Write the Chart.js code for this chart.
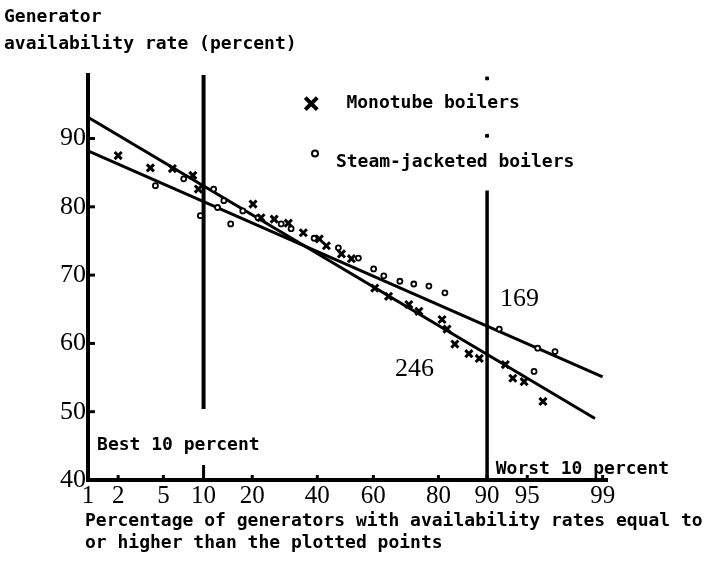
<!DOCTYPE html>
<html>
<head>
<meta charset="utf-8">
<script src="https://cdn.jsdelivr.net/npm/chart.js@4.4.1/dist/chart.umd.min.js"></script>
<style>
  body { margin: 0; background: #fff; }
  #wrap { width: 722px; height: 579px; }
</style>
</head>
<body>
<div id="wrap"><canvas id="availChart" width="722" height="579"></canvas></div>
<script>
// x values are "percentage of generators" (probability scale), y values are availability (%)
const xTicks = [1, 2, 5, 10, 20, 40, 60, 80, 90, 95, 99];
const yTicks = [40, 50, 60, 70, 80, 90];
const xRange = [1, 99.1];
const yRange = [40, 99.3];

const monoPct  = [2.0, 3.9, 5.9, 8.4, 9.2, 20.2, 22.3, 26.0, 30.3, 35.2, 40.7, 43.2, 48.6, 52.2,
                  60.5, 65.2, 71.7, 74.7, 80.9, 82.1, 83.9, 86.8, 88.7, 92.6, 93.5, 94.7, 96.3];
const monoRate = [87.5, 85.7, 85.6, 84.6, 82.6, 80.4, 78.4, 78.2, 77.6, 76.2, 75.3, 74.3, 73.1, 72.4,
                  68.1, 66.9, 65.7, 64.7, 63.5, 62.1, 59.9, 58.5, 57.8, 56.9, 54.9, 54.4, 51.5];

const steamPct  = [4.3, 7.2, 9.5, 11.7, 12.4, 13.6, 15.0, 17.7, 21.5, 28.1, 31.2, 38.9, 47.5, 54.7,
                   60.1, 63.6, 68.9, 73.2, 77.5, 81.6, 91.8, 95.6, 95.9, 97.1];
const steamRate = [83.1, 84.1, 78.7, 82.6, 79.9, 80.9, 77.5, 79.4, 78.4, 77.5, 76.8, 75.4, 74.0, 72.5,
                   70.9, 69.9, 69.1, 68.7, 68.4, 67.4, 62.1, 55.9, 59.3, 58.8];

// fitted lines (end points)
const monoFitPct   = [1, 98.8];
const monoFitRate  = [93.1, 49.0];
const steamFitPct  = [1, 99.0];
const steamFitRate = [88.2, 55.1];

// "best 10 percent" / "worst 10 percent" boundaries
const bestLinePct   = [10, 10];
const bestLineRate  = [99.3, 50.4];
const worstLinePct  = [90, 90];
const worstLineRate = [82.4, 40];
const worstDotsPct  = [90, 90];
const worstDotsRate = [98.8, 90.4];

// inverse normal CDF (Acklam), p in percent
function probit(p) {
    const q = p / 100;
    const a = [-3.969683028665376e+01, 2.209460984245205e+02, -2.759285104469687e+02, 1.383577518672690e+02, -3.066479806614716e+01, 2.506628277459239e+00];
    const b = [-5.447609879822406e+01, 1.615858368580409e+02, -1.556989798598866e+02, 6.680131188771972e+01, -1.328068155288572e+01];
    const c = [-7.784894002430293e-03, -3.223964580411365e-01, -2.400758277161838e+00, -2.549732539343734e+00, 4.374664141464968e+00, 2.938163982698783e+00];
    const d = [7.784695709041462e-03, 3.224671290700398e-01, 2.445134137142996e+00, 3.754408661907416e+00];
    const lo = 0.02425;
    if (q < lo) {
        const r = Math.sqrt(-2 * Math.log(q));
        return (((((c[0]*r+c[1])*r+c[2])*r+c[3])*r+c[4])*r+c[5]) / ((((d[0]*r+d[1])*r+d[2])*r+d[3])*r+1);
    }
    if (q <= 1 - lo) {
        const r = q - 0.5, t = r * r;
        return (((((a[0]*t+a[1])*t+a[2])*t+a[3])*t+a[4])*t+a[5])*r / (((((b[0]*t+b[1])*t+b[2])*t+b[3])*t+b[4])*t+1);
    }
    const r = Math.sqrt(-2 * Math.log(1 - q));
    return -(((((c[0]*r+c[1])*r+c[2])*r+c[3])*r+c[4])*r+c[5]) / ((((d[0]*r+d[1])*r+d[2])*r+d[3])*r+1);
}

const toPoints = (pcts, rates) => pcts.map((p, i) => ({ x: probit(p), y: rates[i] }));

const monoFont = '"DejaVu Sans Mono", "Liberation Mono", monospace';
const serifFont = '"Liberation Serif", "DejaVu Serif", serif';

const lineSet = (pcts, rates, width) => ({
    type: 'line',
    data: toPoints(pcts, rates),
    borderColor: '#000',
    borderWidth: width,
    pointRadius: 0,
    fill: false
});

// texts, tick marks and legend drawn on top
const decorations = {
    id: 'decorations',
    afterDraw(chart) {
        const ctx = chart.ctx;
        const xs = chart.scales.x, ys = chart.scales.y;
        const px = p => xs.getPixelForValue(probit(p));
        const py = v => ys.getPixelForValue(v);
        const area = chart.chartArea;
        ctx.save();
        ctx.fillStyle = '#000';
        ctx.strokeStyle = '#000';

        // inward tick marks
        ctx.lineWidth = 3;
        yTicks.forEach(v => {
            ctx.beginPath();
            ctx.moveTo(area.left, py(v));
            ctx.lineTo(area.left + 7, py(v));
            ctx.stroke();
        });
        xTicks.forEach(p => {
            const len = p === 10 ? 15 : 5;
            ctx.beginPath();
            ctx.moveTo(px(p), area.bottom);
            ctx.lineTo(px(p), area.bottom - len);
            ctx.stroke();
        });

        ctx.textBaseline = 'middle';
        ctx.textAlign = 'left';
        ctx.font = 'bold 18px ' + monoFont;
        ctx.fillText('Generator', 4, 17);
        ctx.fillText('availability rate (percent)', 4, 44);
        ctx.fillText('Percentage of generators with availability rates equal to', 85, 521);
        ctx.fillText('or higher than the plotted points', 85, 543);

        ctx.fillText('Best 10 percent', px(1.24), py(45.1));
        ctx.fillText('Worst 10 percent', px(91.3), py(41.6));
        ctx.fillText('Monotube boilers', px(50.4), py(95.1));
        ctx.fillText('Steam-jacketed boilers', px(46.6), py(86.5));

        // legend markers
        const mx = px(37.9), my = py(95.1);
        ctx.lineWidth = 4;
        ctx.beginPath();
        ctx.moveTo(mx - 6, my - 6); ctx.lineTo(mx + 6, my + 6);
        ctx.moveTo(mx + 6, my - 6); ctx.lineTo(mx - 6, my + 6);
        ctx.stroke();
        ctx.lineWidth = 2;
        ctx.beginPath();
        ctx.arc(px(39.2), py(87.8), 3, 0, Math.PI * 2);
        ctx.stroke();

        ctx.font = '26px ' + serifFont;
        ctx.fillText('169', px(91.9), py(66.5));
        ctx.fillText('246', px(67.3), py(56.2));
        ctx.restore();
    }
};

const ctx = document.getElementById('availChart');
new Chart(ctx, {
    type: 'scatter',
    data: {
        datasets: [
            {
                label: 'Monotube boilers',
                data: toPoints(monoPct, monoRate),
                pointStyle: 'crossRot',
                pointRadius: 5,
                pointBorderWidth: 3,
                borderColor: '#000',
                backgroundColor: '#000'
            },
            {
                label: 'Steam-jacketed boilers',
                data: toPoints(steamPct, steamRate),
                pointStyle: 'circle',
                pointRadius: 2.5,
                pointBorderWidth: 1.8,
                borderColor: '#000',
                backgroundColor: '#fff'
            },
            lineSet(monoFitPct, monoFitRate, 3),
            lineSet(steamFitPct, steamFitRate, 3),
            lineSet(bestLinePct, bestLineRate, 4),
            lineSet(worstLinePct, worstLineRate, 3.5),
            {
                data: toPoints(worstDotsPct, worstDotsRate),
                pointStyle: 'rect',
                pointRadius: 2,
                borderColor: '#000',
                backgroundColor: '#000'
            }
        ]
    },
    options: {
        responsive: false,
        animation: false,
        layout: { padding: { top: 75, right: 115, left: 0, bottom: 0 } },
        plugins: {
            legend: { display: false },
            tooltip: { enabled: false }
        },
        scales: {
            x: {
                type: 'linear',
                min: probit(xRange[0]),
                max: probit(xRange[1]),
                afterBuildTicks: scale => { scale.ticks = xTicks.map(p => ({ value: probit(p) })); },
                afterFit: scale => { scale.height = 99; },
                grid: { display: false, drawTicks: false },
                border: { display: true, color: '#000', width: 4 },
                ticks: {
                    padding: 1,
                    color: '#000',
                    maxRotation: 0,
                    autoSkip: false,
                    font: { family: serifFont, size: 25 },
                    callback: (value, index) => xTicks[index]
                }
            },
            y: {
                min: yRange[0],
                max: yRange[1],
                afterBuildTicks: scale => { scale.ticks = yTicks.map(v => ({ value: v })); },
                afterFit: scale => { scale.width = 88; },
                grid: { display: false, drawTicks: false },
                border: { display: true, color: '#000', width: 4 },
                ticks: {
                    padding: 2,
                    color: '#000',
                    font: { family: serifFont, size: 26 },
                    callback: (value, index) => yTicks[index]
                }
            }
        }
    },
    plugins: [decorations]
});
</script>
</body>
</html>
